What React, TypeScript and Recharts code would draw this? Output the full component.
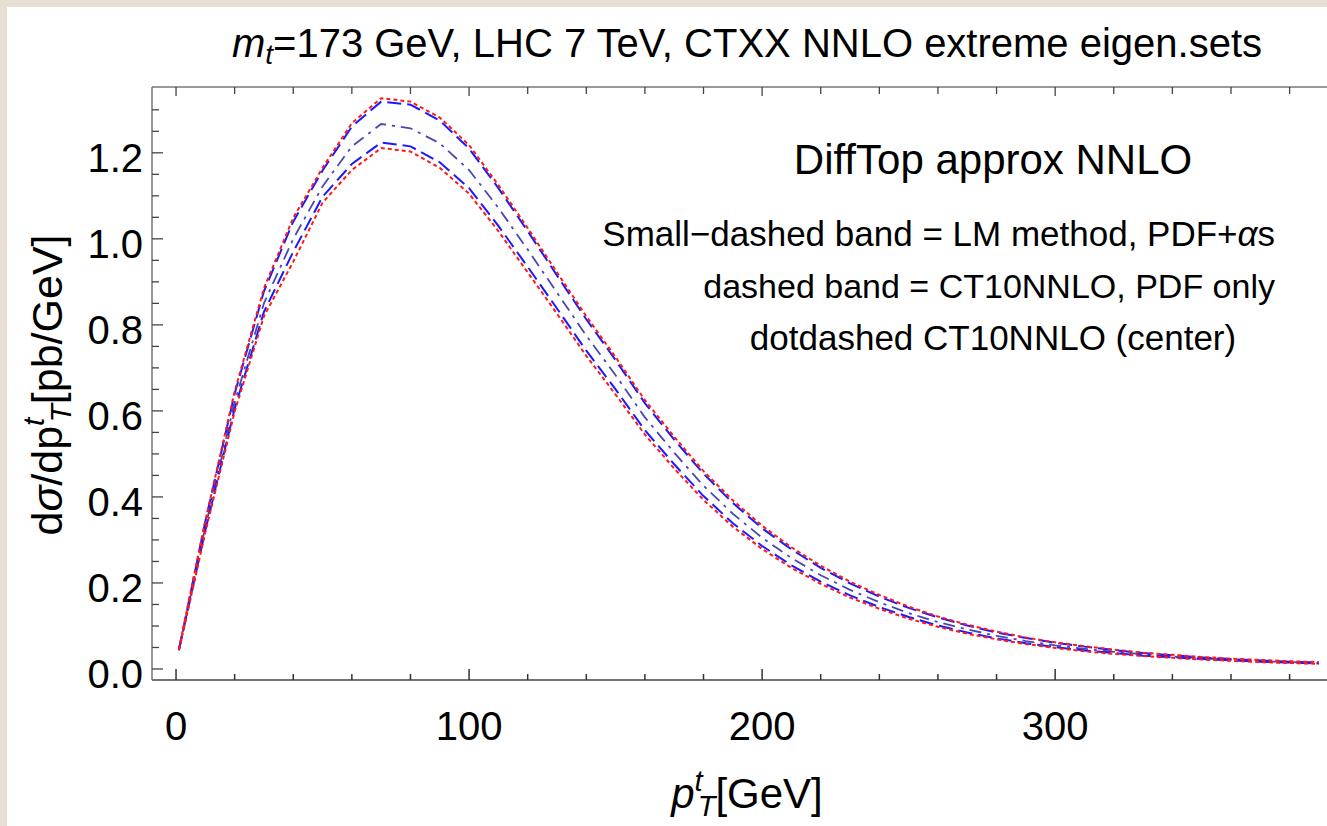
import React from 'react';
import { LineChart, Line, XAxis, YAxis } from 'recharts';

// transverse momentum of the top quark [GeV]
const pT = [1, 10, 20, 30, 40, 50, 60, 70, 80, 90, 100, 110, 120, 130, 140, 150, 160, 170, 180, 190, 200, 210, 220, 230, 240, 250, 260, 270, 280, 290, 300, 310, 320, 330, 340, 350, 360, 370, 380, 390];

// LM method band (PDF + alpha_s), small-dashed red
const lmUpper = [0.047, 0.345, 0.645, 0.885, 1.049, 1.165, 1.269, 1.327, 1.319, 1.282, 1.218, 1.125, 1.025, 0.922, 0.82, 0.725, 0.625, 0.54, 0.46, 0.392, 0.333, 0.283, 0.24, 0.203, 0.172, 0.145, 0.122, 0.103, 0.087, 0.073, 0.062, 0.053, 0.045, 0.038, 0.033, 0.028, 0.024, 0.021, 0.018, 0.016];
const lmLower = [0.043, 0.318, 0.598, 0.82, 0.947, 1.084, 1.16, 1.211, 1.203, 1.165, 1.105, 1.018, 0.922, 0.826, 0.728, 0.638, 0.545, 0.466, 0.393, 0.331, 0.279, 0.235, 0.198, 0.166, 0.14, 0.117, 0.098, 0.082, 0.069, 0.058, 0.049, 0.041, 0.035, 0.03, 0.026, 0.022, 0.019, 0.016, 0.014, 0.012];

// CT10NNLO PDF-only band, dashed blue
const ctUpper = [0.046, 0.343, 0.64, 0.878, 1.04, 1.159, 1.261, 1.319, 1.312, 1.275, 1.21, 1.118, 1.018, 0.915, 0.813, 0.718, 0.618, 0.533, 0.454, 0.386, 0.327, 0.278, 0.235, 0.199, 0.168, 0.142, 0.12, 0.101, 0.085, 0.072, 0.061, 0.052, 0.044, 0.037, 0.032, 0.027, 0.023, 0.02, 0.017, 0.015];
const ctLower = [0.044, 0.322, 0.605, 0.83, 0.97, 1.098, 1.174, 1.224, 1.215, 1.178, 1.118, 1.03, 0.935, 0.838, 0.74, 0.65, 0.555, 0.476, 0.402, 0.339, 0.286, 0.241, 0.203, 0.171, 0.144, 0.121, 0.101, 0.085, 0.071, 0.06, 0.051, 0.043, 0.037, 0.031, 0.027, 0.023, 0.02, 0.017, 0.015, 0.013];

// CT10NNLO central, dot-dashed
const central = [0.045, 0.33, 0.62, 0.85, 1.0, 1.122, 1.215, 1.267, 1.257, 1.222, 1.16, 1.072, 0.975, 0.875, 0.775, 0.683, 0.585, 0.503, 0.426, 0.361, 0.305, 0.258, 0.218, 0.184, 0.155, 0.13, 0.109, 0.092, 0.077, 0.065, 0.055, 0.047, 0.04, 0.034, 0.029, 0.025, 0.021, 0.018, 0.016, 0.014];

const xTicks = [0, 20, 40, 60, 80, 100, 120, 140, 160, 180, 200, 220, 240, 260, 280, 300, 320, 340, 360, 380, 400];
const xLabels = [0, 100, 200, 300];
const yTicks = [0, 0.05, 0.1, 0.15, 0.2, 0.25, 0.3, 0.35, 0.4, 0.45, 0.5, 0.55, 0.6, 0.65, 0.7, 0.75, 0.8, 0.85, 0.9, 0.95, 1.0, 1.05, 1.1, 1.15, 1.2, 1.25, 1.3];
const yLabels = [0, 0.2, 0.4, 0.6, 0.8, 1.0, 1.2];

const data = pT.map((p, i) => ({
  pT: p,
  lmUpper: lmUpper[i],
  lmLower: lmLower[i],
  ctUpper: ctUpper[i],
  ctLower: ctLower[i],
  central: central[i],
}));

const FONT = "'Liberation Sans', Arial, Helvetica, sans-serif";
const isIn = (arr: number[], v: number) => arr.some((a) => Math.abs(a - v) < 1e-6);

const BottomTick = (props: any) => {
  const { x, y, payload } = props;
  const major = isIn(xLabels, payload.value);
  return (
    <g>
      <line x1={x} y1={y} x2={x} y2={y - (major ? 11 : 6)} stroke="#333" strokeWidth={1.5} />
      {major && (
        <text x={x} y={y + 60} textAnchor="middle" fontSize={40} fontFamily={FONT} fill="#000">
          {payload.value}
        </text>
      )}
    </g>
  );
};

const TopTick = (props: any) => {
  const { x, y, payload } = props;
  const major = isIn(xLabels, payload.value);
  return <line x1={x} y1={y} x2={x} y2={y + (major ? 9 : 7)} stroke="#444" strokeWidth={1.3} />;
};

const LeftTick = (props: any) => {
  const { x, y, payload } = props;
  const major = isIn(yLabels, payload.value);
  return (
    <g>
      <line x1={x} y1={y} x2={x + (major ? 11 : 7)} y2={y} stroke="#444" strokeWidth={1.3} />
      {major && (
        <text x={x - 9} y={y + 19} textAnchor="end" fontSize={40} fontFamily={FONT} fill="#000">
          {Number(payload.value).toFixed(1)}
        </text>
      )}
    </g>
  );
};

export default function App() {
  return (
    <div style={{ position: 'absolute', left: 0, top: 0, width: 1327, height: 826, overflow: 'hidden', background: '#e7dfd2' }}>
      <div style={{ position: 'absolute', left: 7, top: 7, width: 1320, height: 819, background: '#ffffff' }} />
      <div style={{ position: 'absolute', left: 0, top: 0 }}>
        <LineChart width={1367} height={826} data={data} margin={{ top: 86, right: 10, bottom: 145, left: 151 }}>
          <XAxis
            dataKey="pT"
            type="number"
            domain={[-8.2, 403]}
            allowDataOverflow
            ticks={xTicks}
            interval={0}
            height={1}
            tickSize={0}
            tickMargin={0}
            tickLine={false}
            tick={<BottomTick />}
            axisLine={{ stroke: '#444', strokeWidth: 1.5 }}
          />
          <XAxis
            xAxisId="top"
            orientation="top"
            dataKey="pT"
            type="number"
            domain={[-8.2, 403]}
            allowDataOverflow
            ticks={xTicks}
            interval={0}
            height={1}
            tickSize={0}
            tickMargin={0}
            tickLine={false}
            tick={<TopTick />}
            axisLine={{ stroke: '#777', strokeWidth: 1.5 }}
          />
          <YAxis
            type="number"
            domain={[-0.0256, 1.353]}
            allowDataOverflow
            ticks={yTicks}
            interval={0}
            width={1}
            tickSize={0}
            tickMargin={0}
            tickLine={false}
            tick={<LeftTick />}
            axisLine={{ stroke: '#777', strokeWidth: 1.5 }}
          />
          <Line type="linear" dataKey="central" stroke="#4848b0" strokeWidth={1.8} strokeDasharray="12 6 3 6" dot={false} isAnimationActive={false} />
          <Line type="linear" dataKey="ctUpper" stroke="#1a1aff" strokeWidth={2} strokeDasharray="14 6" dot={false} isAnimationActive={false} />
          <Line type="linear" dataKey="ctLower" stroke="#1a1aff" strokeWidth={2} strokeDasharray="14 6" dot={false} isAnimationActive={false} />
          <Line type="linear" dataKey="lmUpper" stroke="#ff1a1a" strokeWidth={2} strokeDasharray="4 3" dot={false} isAnimationActive={false} />
          <Line type="linear" dataKey="lmLower" stroke="#ff1a1a" strokeWidth={2} strokeDasharray="4 3" dot={false} isAnimationActive={false} />
        </LineChart>
      </div>
      <svg width={1327} height={826} style={{ position: 'absolute', left: 0, top: 0, pointerEvents: 'none' }} fontFamily={FONT}>
        <text x={747} y={57} textAnchor="middle" fontSize={40} fill="#000">
          <tspan fontStyle="italic">m</tspan>
          <tspan fontStyle="italic" fontSize={28} dy={7}>t</tspan>
          <tspan dy={-7}>=173 GeV, LHC 7 TeV, CTXX NNLO extreme eigen.sets</tspan>
        </text>
        <text x={993} y={174} textAnchor="middle" fontSize={42} fill="#000">DiffTop approx NNLO</text>
        <text x={1275} y={246} textAnchor="end" fontSize={35} fill="#000">
          Small−dashed band = LM method, PDF+<tspan fontStyle="italic">α</tspan>s
        </text>
        <text x={1275} y={298} textAnchor="end" fontSize={34} fill="#000">dashed band = CT10NNLO, PDF only</text>
        <text x={993} y={350} textAnchor="middle" fontSize={35} fill="#000">dotdashed CT10NNLO (center)</text>
        <text x={747} y={808} textAnchor="middle" fontSize={42} fill="#000">
          <tspan fontStyle="italic">p</tspan>
          <tspan fontStyle="italic" fontSize={29} dy={-17}>t</tspan>
          <tspan fontStyle="italic" fontSize={29} dy={25} dx={-5}>T</tspan>
          <tspan dy={-8}>[GeV]</tspan>
        </text>
        <text x={62} y={385} textAnchor="middle" fontSize={43} fill="#000" transform="rotate(-90, 62, 385)">
          d<tspan fontStyle="italic">σ</tspan>/dp
          <tspan fontStyle="italic" fontSize={30} dy={-18}>t</tspan>
          <tspan fontStyle="italic" fontSize={30} dy={27} dx={-5}>T</tspan>
          <tspan dy={-9}>[pb/GeV]</tspan>
        </text>
      </svg>
    </div>
  );
}
